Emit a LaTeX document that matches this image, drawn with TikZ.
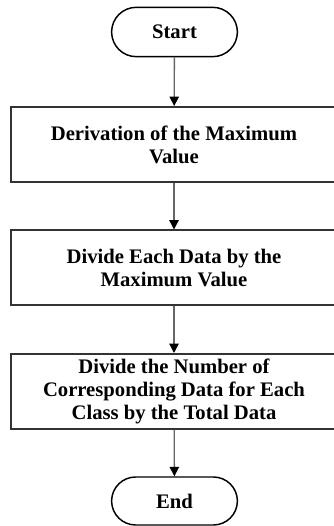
\documentclass[tikz,border=0pt]{standalone}
\usepackage{fontspec}
\setmainfont{Liberation Serif}
\usetikzlibrary{
  arrows.meta,
  shapes.misc
}

\tikzset{
  terminal/.style={rounded rectangle, draw=black, line width=1.1pt,
    minimum width=101pt, minimum height=37pt,
    font=\bfseries\fontsize{15.5}{17.25}\selectfont},
  process/.style={rectangle, draw=black!80, line width=1.5pt,
    minimum width=244.5pt, minimum height=56.25pt, align=center,
    font=\bfseries\fontsize{15.5}{17.25}\selectfont},
  flow/.style={draw=black!60, line width=1pt,
    -{Triangle[width=7pt,length=7pt,color=black]}}
}

\begin{document}
\begin{tikzpicture}[x=0.75pt,y=0.75pt]
  \useasboundingbox (0,0) rectangle (333,526);
  \node[terminal] (start) at (174.5,494) {Start};
  \node[process] (maxval) at (174,381.5) {Derivation of the Maximum\\Value};
  \node[process] (divide) at (174,258) {Divide Each Data by the\\Maximum Value};
  \node[process] (ratio) at (174,134.5) {Divide the Number of\\Corresponding Data for Each\\Class by the Total Data};
  \node[terminal, minimum height=36pt] (end) at (174.5,25) {End};
  \draw[flow] (start) -- (maxval);
  \draw[flow] (maxval) -- (divide);
  \draw[flow] (divide) -- (ratio);
  \draw[flow] (ratio) -- (end);
\end{tikzpicture}
\end{document}
